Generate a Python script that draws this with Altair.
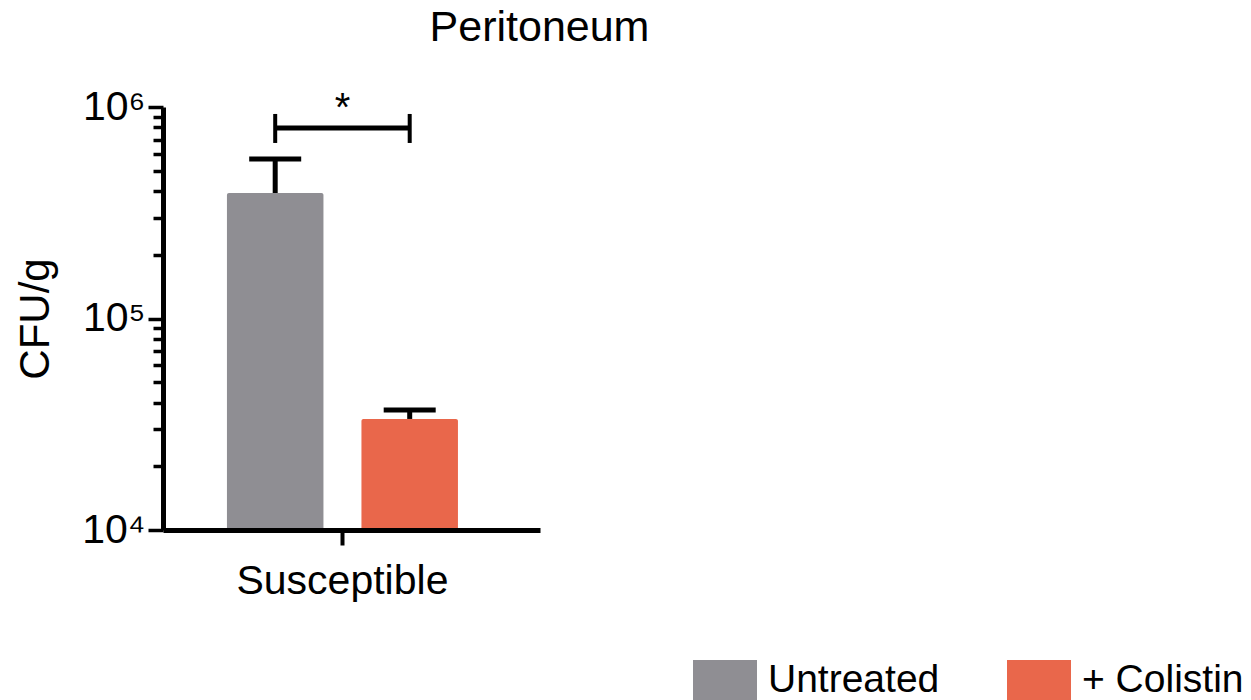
import altair as alt
import pandas as pd

# ---- data ----
categories = ["Susceptible"]
groups = ["Untreated", "+ Colistin"]
means = [392000, 33500]
err_upper = [568000, 36900]
bracket_level = 796000
bracket_low = 676000
bracket_high = 927000
significance = "*"
colors = ["#8f8e93", "#e9674b"]
y_tick_values = [10000, 20000, 30000, 40000, 50000, 60000, 70000, 80000, 90000,
                 100000, 200000, 300000, 400000, 500000, 600000, 700000, 800000, 900000,
                 1000000]
major_ticks = [10000, 100000, 1000000]
major_labels = ["10⁴", "10⁵", "10⁶"]

FONT = "Liberation Sans"

bars = pd.DataFrame({
    "cat": [categories[0]] * len(groups),
    "group": groups,
    "mean": means,
    "err": err_upper,
    "blev": [bracket_level] * len(groups),
    "blo": [bracket_low] * len(groups),
    "bhi": [bracket_high] * len(groups),
})
star = pd.DataFrame({"cat": categories, "blev": [bracket_level], "txt": [significance]})

label_expr = " : ".join(
    f"datum.value == {v} ? '{l}'" for v, l in zip(major_ticks, major_labels)
) + " : ''"
major_test = "indexof([" + ",".join(str(v) for v in major_ticks) + "], datum.value) >= 0"

x_enc = alt.X(
    "cat:N",
    title=None,
    scale=alt.Scale(paddingInner=0, paddingOuter=0.316, align=0.438),
    axis=alt.Axis(labelAngle=0, tickSize=15, tickWidth=4, labelPadding=16,
                  labelFontSize=41, labelFont=FONT, labelLimit=0, zindex=1),
)
xoff_enc = alt.XOffset("group:N", scale=alt.Scale(domain=groups, paddingInner=0.2825, paddingOuter=0))

y_scale = alt.Scale(type="log", domain=[10000, 1000000])
y_enc = alt.Y(
    "mean:Q",
    title="CFU/g",
    stack=None,
    scale=y_scale,
    axis=alt.Axis(
        values=y_tick_values,
        labelExpr=label_expr,
        tickSize={"condition": {"test": major_test, "value": 15}, "value": 10},
        tickWidth=3.5,
        labelFontSize=41,
        labelFont=FONT,
        labelPadding=3,
        titleFontSize=42,
        titleFont=FONT,
        titleFontWeight="normal",
        titlePadding=24,
        zindex=1,
    ),
)

bar_layer = alt.Chart(bars).mark_bar(cornerRadius=2).encode(
    x=x_enc,
    xOffset=xoff_enc,
    y=y_enc,
    color=alt.Color(
        "group:N",
        scale=alt.Scale(domain=groups, range=colors),
        legend=alt.Legend(
            title=None,
            orient="none",
            legendX=530,
            legendY=541,
            direction="horizontal",
            symbolType="M-1,-0.625H1V0.625H-1Z",
            symbolSize=4096,
            symbolStrokeWidth=0,
            symbolOpacity=1,
            labelFontSize=39,
            labelFont=FONT,
            labelColor="black",
            labelOffset=11,
            columnPadding=67,
            labelLimit=400,
        ),
    ),
)

err_stem = alt.Chart(bars).mark_rule(color="black", strokeWidth=5).encode(
    x="cat:N", xOffset=xoff_enc, y=alt.Y("mean:Q", scale=y_scale), y2="err:Q"
)
err_cap = alt.Chart(bars).mark_tick(color="black", thickness=5, size=52, opacity=1).encode(
    x="cat:N", xOffset=xoff_enc, y=alt.Y("err:Q", scale=y_scale)
)
bracket_line = alt.Chart(bars).mark_line(color="black", strokeWidth=5).encode(
    x="cat:N", xOffset=xoff_enc, y=alt.Y("blev:Q", scale=y_scale)
)
bracket_ends = alt.Chart(bars).mark_rule(color="black", strokeWidth=4).encode(
    x="cat:N", xOffset=xoff_enc, y=alt.Y("blo:Q", scale=y_scale), y2="bhi:Q"
)
star_layer = alt.Chart(star).mark_text(
    fontSize=40, font=FONT, color="black", dy=-19, baseline="middle"
).encode(
    x="cat:N", y=alt.Y("blev:Q", scale=y_scale), text="txt:N"
)

chart = alt.layer(
    bar_layer, err_stem, err_cap, bracket_line, bracket_ends, star_layer
).properties(
    width=377,
    height=423,
    title=alt.TitleParams(
        "Peritoneum", fontSize=43, font=FONT, fontWeight="normal", color="black",
        anchor="middle", frame="group", dx=188, offset=36,
    ),
    autosize=alt.AutoSizeParams(type="none"),
    padding={"left": 163, "top": 107, "right": 711, "bottom": 170},
).configure_view(stroke=None).configure_axis(
    grid=False,
    domainColor="black",
    domainWidth=5,
    tickColor="black",
    labelColor="black",
    titleColor="black",
)

chart.save("out.html", embed_options={"renderer": "svg", "actions": False})
